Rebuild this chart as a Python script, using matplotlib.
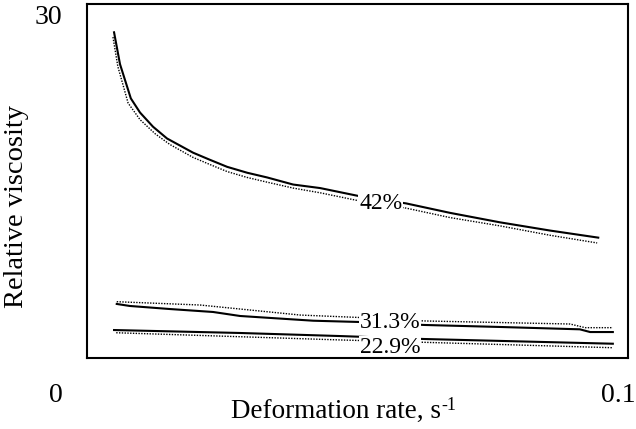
# Relative viscosity vs. deformation rate for three solids fractions
import matplotlib
matplotlib.use('Agg')
from matplotlib import pyplot as plt

plt.rcParams['font.family'] = ['Liberation Serif', 'DejaVu Serif']

# 42 % - measured (solid) and model (dotted)
rate_42 = [0.0050, 0.0061, 0.0081, 0.0098, 0.0122, 0.0148, 0.0172, 0.0196, 0.0227, 0.0259,
           0.0296, 0.0333, 0.0381, 0.0431, 0.0505, 0.0590, 0.0671, 0.0763, 0.0856, 0.0945]
visc_42 = [27.6, 24.9, 22.0, 20.8, 19.6, 18.6, 18.0, 17.4, 16.8, 16.2,
           15.7, 15.3, 14.7, 14.4, 13.7, 13.1, 12.3, 11.5, 10.8, 10.2]
rate_42m = [0.0048, 0.0057, 0.0076, 0.0098, 0.0126, 0.0153, 0.0196, 0.0227, 0.0259, 0.0296,
            0.0333, 0.0381, 0.0431, 0.0505, 0.0590, 0.0671, 0.0763, 0.0856, 0.0943]
visc_42m = [27.2, 24.7, 21.6, 20.2, 19.0, 18.1, 17.0, 16.4, 15.8, 15.3,
            14.9, 14.4, 14.0, 13.3, 12.7, 11.9, 11.2, 10.4, 9.75]

# 31.3 %
rate_31 = [0.0055, 0.0079, 0.0153, 0.0233, 0.0283, 0.0418, 0.0505, 0.0623, 0.0763, 0.0911, 0.0930, 0.0972]
visc_31 = [4.58, 4.41, 4.15, 3.90, 3.56, 3.16, 3.05, 2.80, 2.63, 2.43, 2.20, 2.20]
rate_31m = [0.0055, 0.0209, 0.0394, 0.0505, 0.0623, 0.0893, 0.0921, 0.0972]
visc_31m = [4.77, 4.49, 3.64, 3.43, 3.14, 2.88, 2.57, 2.57]

# 22.9 %
rate_23 = [0.0050, 0.0283, 0.0468, 0.0623, 0.0972]
visc_23 = [2.37, 2.12, 1.86, 1.61, 1.21]
rate_23m = [0.0054, 0.0468, 0.0623, 0.0972]
visc_23m = [2.14, 1.53, 1.33, 0.87]

labels = ['42%', '31.3%', '22.9%']
label_x = [0.0543, 0.0560, 0.0560]
label_y = [13.1, 3.0, 0.88]

fig = plt.figure(figsize=(6.36, 4.29), dpi=100)
ax = fig.add_axes([0.1368, 0.1655, 0.8506, 0.8252])

for r, v in [(rate_42, visc_42), (rate_31, visc_31), (rate_23, visc_23)]:
    ax.plot(r, v, color='black', lw=1.5, solid_joinstyle='round')
for r, v in [(rate_42m, visc_42m), (rate_31m, visc_31m), (rate_23m, visc_23m)]:
    ax.plot(r, v, color='black', lw=1.0, linestyle=(0, (1, 1)))

# inline labels cut the curves but stay under the frame
for txt, x, y in zip(labels, label_x, label_y):
    ax.text(x, y, txt, fontsize=17, ha='center', va='center', zorder=2.2,
            bbox=dict(facecolor='white', edgecolor='none', pad=0.5))

ax.set_xlim(0, 0.1)
ax.set_ylim(0, 30)
ax.set_xticks([])
ax.set_yticks([])
for sp in ax.spines.values():
    sp.set_linewidth(1.5)

# axis end values
fig.text(48 / 636, 1 - 18 / 429, '30', fontsize=20, ha='center', va='center')
fig.text(56 / 636, 1 - 395 / 429, '0', fontsize=20, ha='center', va='center')
fig.text(618 / 636, 1 - 395 / 429, '0.1', fontsize=20, ha='center', va='center')

xlab = fig.text(336 / 636, 1 - 412 / 429, 'Deformation rate, s', fontsize=19.5,
                ha='center', va='center')
ax.annotate('-1', xy=(1, 1), xycoords=xlab, xytext=(0.5, 2), textcoords='offset points',
            fontsize=13, ha='left', va='top')
fig.text(17 / 636, 1 - 207 / 429, 'Relative viscosity', fontsize=20.5,
         rotation=90, ha='center', va='center')

fig.savefig('out.png', dpi=100)
